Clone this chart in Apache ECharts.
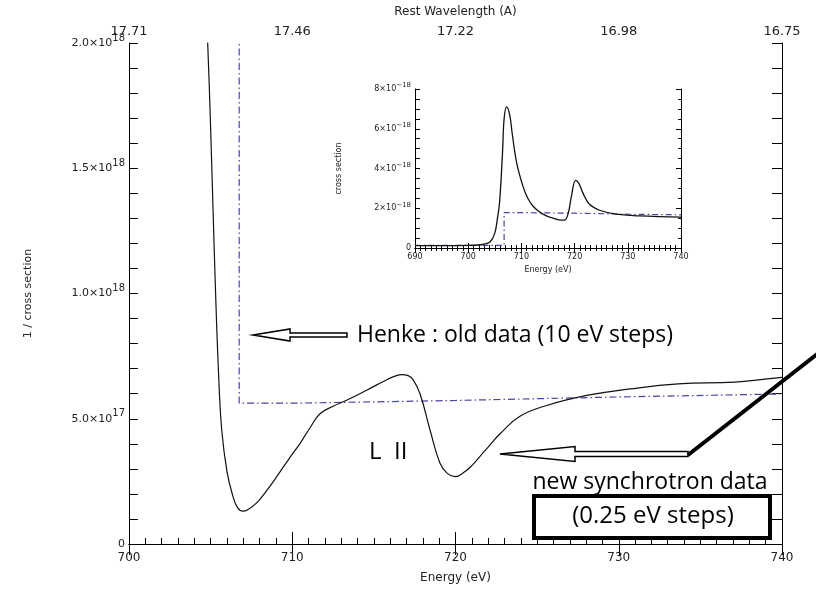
<!DOCTYPE html>
<html><head><meta charset="utf-8">
<script src="https://cdn.jsdelivr.net/npm/echarts@6/dist/echarts.min.js"></script>
<style>html,body{margin:0;padding:0;background:#fff}#c{width:816px;height:589px}</style>
</head><body><div id="c"></div>
<script>
// ---- main panel: 1 / cross section vs energy ----
const mainEnergy = [700, 701.5, 702.5, 703.5, 704.2, 704.82, 705.0, 705.15, 705.33, 705.5, 705.68, 706.0, 706.37, 706.65, 706.96, 707.3, 707.82, 708.4, 709.05, 709.8, 710.47, 711.1, 711.7, 712.5, 713.33, 714.56, 715.79, 716.3, 716.7, 717.1, 717.4, 717.83, 718.44, 719.05, 719.5, 719.97, 720.5, 721.07, 721.5, 722.11, 722.73, 723.95, 725.59, 728.04, 730.69, 733.65, 737.1, 739.06, 740];
const mainInvCS = [6.6e18, 6.2e18, 5.5e18, 4.2e18, 3.0e18, 2.0e18, 1.66e18, 1.33e18, 9.5e17, 6.6e17, 4.55e17, 2.9e17, 1.9e17, 1.45e17, 1.31e17, 1.38e17, 1.64e17, 2.1e17, 2.69e17, 3.4e17, 4.01e17, 4.65e17, 5.2e17, 5.5e17, 5.74e17, 6.14e17, 6.56e17, 6.7e17, 6.76e17, 6.72e17, 6.56e17, 5.99e17, 4.55e17, 3.22e17, 2.82e17, 2.69e17, 2.85e17, 3.18e17, 3.5e17, 3.95e17, 4.4e17, 5.1e17, 5.53e17, 5.93e17, 6.19e17, 6.39e17, 6.46e17, 6.59e17, 6.65e17];
const henkeEnergy = [700, 706.75, 706.75, 710, 720, 730, 740];
const henkeInvCS = [7.5e18, 7.5e18, 5.62e17, 5.62e17, 5.73e17, 5.87e17, 5.99e17];

// top axis: rest wavelength labels at the energy ticks
const topTickEnergy = [700, 710, 720, 730, 740];
const topTickLabels = ['17.71', '17.46', '17.22', '16.98', '16.75'];
// left axis tick labels
const yTickValues = [0, 5e17, 1e18, 1.5e18, 2e18];
const yTickMantissa = ['0', '5.0', '1.0', '1.5', '2.0'];
const yTickExp = ['', '17', '18', '18', '18'];

// ---- inset: cross section vs energy ----
const insetEnergy = [690, 695, 700, 701.9, 703.0, 704.1, 705.0, 705.5, 705.9, 706.45, 706.75, 707.2, 707.8, 708.3, 709.1, 710.3, 711.2, 712.2, 713.5, 714.7, 716.2, 717.4, 718.1, 718.8, 719.4, 720.2, 720.8, 721.6, 722.8, 724.7, 727.8, 732.2, 740];
const insetCS = [0.12e-18, 0.12e-18, 0.13e-18, 0.15e-18, 0.2e-18, 0.3e-18, 0.75e-18, 1.5e-18, 2.3e-18, 4.8e-18, 6.5e-18, 7.1e-18, 6.7e-18, 5.7e-18, 4.3e-18, 3.1e-18, 2.5e-18, 2.1e-18, 1.8e-18, 1.62e-18, 1.48e-18, 1.4e-18, 1.4e-18, 1.75e-18, 2.6e-18, 3.4e-18, 3.25e-18, 2.75e-18, 2.2e-18, 1.9e-18, 1.7e-18, 1.62e-18, 1.55e-18];
const insetHenkeEnergy = [690, 706.75, 706.75, 710, 720, 730, 740];
const insetHenkeCS = [0.13e-18, 0.13e-18, 1.78e-18, 1.78e-18, 1.75e-18, 1.7e-18, 1.67e-18];
const insetYTickValues = [0, 2e-18, 4e-18, 6e-18, 8e-18];
const insetYTickMantissa = ['0', '2', '4', '6', '8'];
const insetYTickExp = ['', '\u221218', '\u221218', '\u221218', '\u221218'];

const zip = (a, b) => a.map((x, i) => [x, b[i]]);
const AX = '"DejaVu Sans", sans-serif';
const ANN = '"Open Sans", Lato, sans-serif';
const HENKE = '#4646a8';

function supLabel(values, mant, exp, tol) {
  return v => {
    const i = values.findIndex(t => Math.abs(t - v) <= tol);
    if (i < 0) return '';
    return exp[i] ? `{m|${mant[i]}\u00d710}{s|${exp[i]}}` : `{m|${mant[i]}}`;
  };
}

const chart = echarts.init(document.getElementById('c'), null, {renderer: 'canvas'});
const axLine = {show: true, lineStyle: {color: '#000', width: 1}};

chart.setOption({
  animation: false,
  backgroundColor: '#fff',
  grid: [
    {left: 129, top: 43, width: 653, height: 505, show: false},
    {left: 415, top: 89, width: 266, height: 159, show: true, backgroundColor: '#fff', borderWidth: 0}
  ],
  xAxis: [
    { gridIndex: 0, type: 'value', position: 'bottom', min: 700, max: 740, interval: 10,
      axisLine: axLine, splitLine: {show: false},
      axisTick: {inside: true, length: 12, lineStyle: {color: '#000'}},
      minorTick: {show: true, splitNumber: 10, length: 6, lineStyle: {color: '#000'}},
      axisLabel: {color: '#222', fontFamily: AX, fontSize: 12, margin: 8},
      name: 'Energy (eV)', nameLocation: 'middle', nameGap: 28,
      nameTextStyle: {color: '#222', fontFamily: AX, fontSize: 12} },
    { gridIndex: 0, type: 'value', position: 'top', min: 700, max: 740, interval: 10,
      axisLine: axLine, splitLine: {show: false},
      axisTick: {inside: true, length: 11, lineStyle: {color: '#000'}},
      axisLabel: {color: '#222', fontFamily: AX, fontSize: 13, margin: 5,
        formatter: v => { const i = topTickEnergy.indexOf(Math.round(v)); return i < 0 ? '' : topTickLabels[i]; }},
      name: 'Rest Wavelength (A)', nameLocation: 'middle', nameGap: 25,
      nameTextStyle: {color: '#222', fontFamily: AX, fontSize: 12} },
    { gridIndex: 1, type: 'value', position: 'bottom', min: 690, max: 740, interval: 10,
      axisLine: axLine, splitLine: {show: false},
      axisTick: {inside: true, length: 5, lineStyle: {color: '#000'}},
      minorTick: {show: true, splitNumber: 10, length: 3, lineStyle: {color: '#000'}},
      axisLabel: {color: '#222', fontFamily: AX, fontSize: 8, margin: 5},
      name: 'Energy (eV)', nameLocation: 'middle', nameGap: 18,
      nameTextStyle: {color: '#222', fontFamily: AX, fontSize: 8} },
    { gridIndex: 1, type: 'value', position: 'top', min: 690, max: 740, interval: 10,
      axisLine: axLine, splitLine: {show: false},
      axisTick: {inside: true, length: 5, lineStyle: {color: '#000'}},
      minorTick: {show: true, splitNumber: 10, length: 3, lineStyle: {color: '#000'}},
      axisLabel: {show: false} }
  ],
  yAxis: [
    { gridIndex: 0, type: 'value', position: 'left', min: 0, max: 2e18, interval: 5e17,
      axisLine: axLine, splitLine: {show: false},
      axisTick: {inside: true, length: 9, lineStyle: {color: '#000'}},
      minorTick: {show: true, splitNumber: 5, length: 9, lineStyle: {color: '#000'}},
      axisLabel: {color: '#222', fontFamily: AX, margin: 4,
        formatter: supLabel(yTickValues, yTickMantissa, yTickExp, 1e14),
        rich: {m: {fontSize: 11, fontFamily: AX, color: '#222'},
               s: {fontSize: 10, fontFamily: AX, color: '#222', padding: [0, 0, 10, 0]}}},
      name: '1 / cross section', nameLocation: 'middle', nameGap: 95, nameRotate: 90,
      nameTextStyle: {color: '#222', fontFamily: AX, fontSize: 11} },
    { gridIndex: 0, type: 'value', position: 'right', min: 0, max: 2e18, interval: 1e17,
      axisLine: axLine, splitLine: {show: false},
      axisTick: {inside: true, length: 10, lineStyle: {color: '#000'}},
      axisLabel: {show: false} },
    { gridIndex: 1, type: 'value', position: 'left', min: 0, max: 8e-18, interval: 2e-18,
      axisLine: axLine, splitLine: {show: false},
      axisTick: {inside: true, length: 5, lineStyle: {color: '#000'}},
      minorTick: {show: true, splitNumber: 4, length: 5, lineStyle: {color: '#000'}},
      axisLabel: {color: '#222', fontFamily: AX, margin: 4,
        formatter: supLabel(insetYTickValues, insetYTickMantissa, insetYTickExp, 1e-21),
        rich: {m: {fontSize: 8, fontFamily: AX, color: '#222'},
               s: {fontSize: 7, fontFamily: AX, color: '#222', padding: [0, 0, 7, 0]}}},
      name: 'cross section', nameLocation: 'middle', nameGap: 72, nameRotate: 90,
      nameTextStyle: {color: '#222', fontFamily: AX, fontSize: 8} },
    { gridIndex: 1, type: 'value', position: 'right', min: 0, max: 8e-18, interval: 2e-18,
      axisLine: axLine, splitLine: {show: false},
      axisTick: {inside: true, length: 5, lineStyle: {color: '#000'}},
      minorTick: {show: true, splitNumber: 4, length: 3, lineStyle: {color: '#000'}},
      axisLabel: {show: false} }
  ],
  series: [
    { type: 'line', xAxisIndex: 0, yAxisIndex: 0, data: zip(mainEnergy, mainInvCS),
      showSymbol: false, smooth: 0.45, clip: true,
      lineStyle: {color: '#111', width: 1.2}, z: 3 },
    { type: 'line', xAxisIndex: 0, yAxisIndex: 0, data: zip(henkeEnergy, henkeInvCS),
      showSymbol: false, clip: true,
      lineStyle: {color: HENKE, width: 1.2, type: [7, 3, 1.5, 3]}, z: 2 },
    { type: 'line', xAxisIndex: 2, yAxisIndex: 2, data: zip(insetEnergy, insetCS),
      showSymbol: false, smooth: 0.4, clip: true,
      lineStyle: {color: '#111', width: 1.3}, z: 6 },
    { type: 'line', xAxisIndex: 2, yAxisIndex: 2, data: zip(insetHenkeEnergy, insetHenkeCS),
      showSymbol: false, clip: true,
      lineStyle: {color: HENKE, width: 1.2, type: [6, 3, 1.5, 3]}, z: 5 }
  ],
  graphic: [
    // Henke arrow
    { type: 'polygon', z: 20, shape: {points: [[253,335],[290,329],[290,333],[347,333],[347,337],[290,337],[290,341]]},
      style: {fill: '#fff', stroke: '#000', lineWidth: 1.5} },
    { type: 'text', z: 20, x: 357, y: 335,
      style: {text: 'Henke : old data (10 eV steps)', font: '23px ' + ANN, fill: '#000', verticalAlign: 'middle'} },
    { type: 'text', z: 20, x: 369, y: 452,
      style: {text: 'L  II', font: '24px ' + ANN, fill: '#000', verticalAlign: 'middle'} },
    // synchrotron arrow + pointer line
    { type: 'polygon', z: 20, shape: {points: [[500,454],[575,446.5],[575,451.5],[688,451.5],[688,456.5],[575,456.5],[575,461.5]]},
      style: {fill: '#fff', stroke: '#000', lineWidth: 1.5} },
    { type: 'line', z: 20, shape: {x1: 688, y1: 455, x2: 830, y2: 344},
      style: {stroke: '#000', lineWidth: 4} },
    { type: 'text', z: 20, x: 650, y: 482,
      style: {text: 'new synchrotron data', font: '23px ' + ANN, fill: '#000', align: 'center', verticalAlign: 'middle'} },
    { type: 'rect', z: 20, shape: {x: 534, y: 496, width: 236, height: 42},
      style: {fill: '#fff', stroke: '#000', lineWidth: 4} },
    { type: 'text', z: 21, x: 653, y: 516,
      style: {text: '(0.25 eV steps)', font: '24px ' + ANN, fill: '#000', align: 'center', verticalAlign: 'middle'} }
  ]
});
</script>
</body></html>
